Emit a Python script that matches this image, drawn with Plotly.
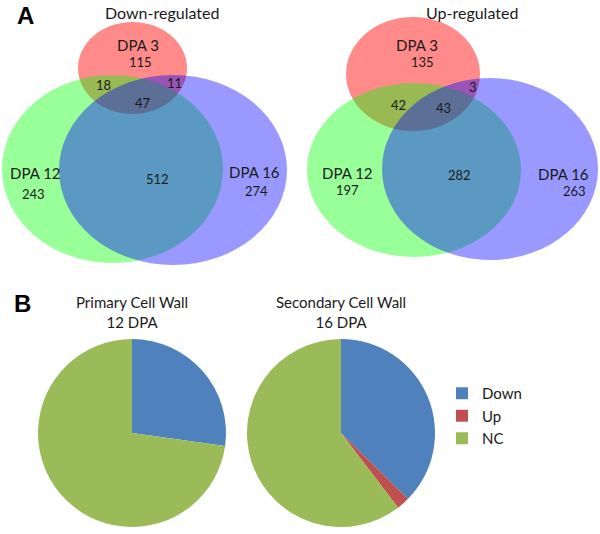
import plotly.graph_objects as go

# ---------------- data ----------------
region_keys = ["3", "12", "16", "3_12", "3_16", "12_16", "3_12_16"]
down_counts = [115, 243, 274, 18, 11, 512, 47]
up_counts = [135, 197, 263, 42, 3, 282, 43]
set_names = ["DPA 3", "DPA 12", "DPA 16"]
venn_titles = ["Down-regulated", "Up-regulated"]

pie_labels = ["Down", "Up", "NC"]
pie_titles = ["Primary Cell Wall<br>12 DPA", "Secondary Cell Wall<br>16 DPA"]
primary_values = [27.2, 0.0, 72.8]
secondary_values = [37.4, 2.2, 60.4]

# ---------------- layout / style ----------------
W, H = 600, 534
FONT = "Lato"
TXT = "#1a1a1a"
set_colors = ["rgba(255,0,0,0.46)", "rgba(0,255,0,0.40)", "rgba(0,0,255,0.40)"]
pie_colors = ["#4F81BD", "#C0504D", "#9BBB59"]

# ellipse boxes (x0, y0, x1, y1) in pixel space for [DPA3, DPA12, DPA16]
venn_boxes = [
    [(78, 22, 187, 114), (2, 75, 223, 263), (59, 75, 287, 265)],
    [(346, 17, 480, 131), (307, 83, 521, 257), (382, 78, 598, 260)],
]
title_pos = [(162, 12), (472, 12)]
name_pos = [
    [(138, 45), (35, 173), (254, 172)],
    [(417, 45), (347, 173), (563, 174)],
]
count_pos = [
    [(140, 62), (33, 194), (256, 191), (103, 85), (174, 83), (157, 179), (143, 103)],
    [(422, 62), (347, 190), (574, 191), (398, 105), (473, 87), (459, 175), (443, 108)],
]

fig = go.Figure()
fig.add_trace(go.Scatter(x=[0, W], y=[0, H], mode="markers",
                         marker=dict(opacity=0), showlegend=False, hoverinfo="skip"))

shapes = []
annotations = []
for v, counts in enumerate([down_counts, up_counts]):
    for s in range(3):
        x0, y0, x1, y1 = venn_boxes[v][s]
        shapes.append(dict(type="circle", xref="x", yref="y", x0=x0, y0=y0, x1=x1, y1=y1,
                           fillcolor=set_colors[s], line=dict(width=0), layer="above"))
    tx, ty = title_pos[v]
    annotations.append(dict(x=tx, y=ty, xref="x", yref="y", text=venn_titles[v], showarrow=False,
                            font=dict(family=FONT, size=16, color=TXT)))
    for s in range(3):
        nx, ny = name_pos[v][s]
        annotations.append(dict(x=nx, y=ny, xref="x", yref="y", text=set_names[s], showarrow=False,
                                font=dict(family=FONT, size=15, color=TXT)))
    for k, c in enumerate(counts):
        cx, cy = count_pos[v][k]
        annotations.append(dict(x=cx, y=cy, xref="x", yref="y", text=str(c), showarrow=False,
                                font=dict(family=FONT, size=13, color=TXT)))

# panel letters
annotations.append(dict(x=25, y=1, xref="x", yref="y", yanchor="top", text="<b>A</b>",
                        showarrow=False, borderpad=0,
                        font=dict(family="Liberation Sans", size=24, color="#000")))
annotations.append(dict(x=22, y=303, xref="x", yref="y", text="<b>B</b>", showarrow=False,
                        font=dict(family="Liberation Sans", size=24, color="#000")))

# pies
pie_centers = [(132, 433), (341, 433)]
R = 94
for p, vals in enumerate([primary_values, secondary_values]):
    cx, cy = pie_centers[p]
    fig.add_trace(go.Pie(
        labels=pie_labels, values=vals, sort=False, direction="clockwise", rotation=0,
        marker=dict(colors=pie_colors, line=dict(width=0)), textinfo="none",
        hoverinfo="label+value", showlegend=(p == 0),
        domain=dict(x=[(cx - R) / W, (cx + R) / W], y=[(H - cy - R) / H, (H - cy + R) / H]),
    ))
    annotations.append(dict(x=cx, y=312, xref="x", yref="y", text=pie_titles[p], showarrow=False,
                            font=dict(family=FONT, size=15, color=TXT)))

fig.update_layout(
    width=W, height=H, margin=dict(l=0, r=0, t=0, b=0),
    paper_bgcolor="white", plot_bgcolor="white",
    xaxis=dict(range=[0, W], visible=False, fixedrange=True),
    yaxis=dict(range=[H, 0], visible=False, fixedrange=True),
    shapes=shapes, annotations=annotations,
    legend=dict(x=442 / W, y=(H - 377) / H, xanchor="left", yanchor="top",
                font=dict(family=FONT, size=15, color=TXT), itemwidth=30,
                bgcolor="rgba(0,0,0,0)"),
)
fig.write_html("out.html", config={"displayModeBar": False},
               post_script="document.body.style.margin='0';document.body.style.overflow='hidden';")
